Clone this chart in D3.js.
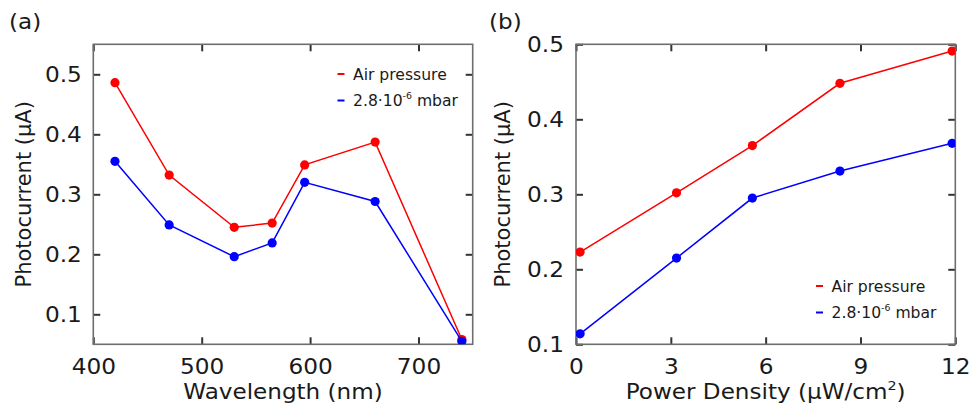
<!DOCTYPE html>
<html>
<head>
<meta charset="utf-8">
<script src="https://cdn.jsdelivr.net/npm/d3@7"></script>
<style>
  html, body { margin: 0; padding: 0; background: #fff; }
  svg { display: block; font-family: "DejaVu Sans", Verdana, sans-serif; }
</style>
</head>
<body>
<svg id="chart" width="971" height="405"></svg>
<script>
// Panel (a): photocurrent vs wavelength
const wavelengths = [420, 470, 530, 565, 595, 660, 740];
const airSpectral = [0.486, 0.332, 0.245, 0.252, 0.349, 0.387, 0.058];
const vacSpectral = [0.355, 0.249, 0.196, 0.219, 0.320, 0.288, 0.055];
const wlTicks = [400, 500, 600, 700];
const ySpecTicks = [0.1, 0.2, 0.3, 0.4, 0.5];

// Panel (b): photocurrent vs power density
const powerDensity = [0.13, 3.18, 5.58, 8.35, 11.9];
const airPower = [0.223, 0.302, 0.365, 0.448, 0.491];
const vacPower = [0.114, 0.215, 0.295, 0.331, 0.368];
const pdTicks = [0, 3, 6, 9, 12];
const yPowTicks = [0.1, 0.2, 0.3, 0.4, 0.5];

const seriesNames = ["Air pressure", "2.8·10⁻⁶ mbar"];
const RED = "#ff0000", BLUE = "#0000ff";
const FRAME = "#6e6e6e", TEXT = "#1a1a1a";
const WIDE = 1.08;   // slight horizontal widening of the lettering

const svg = d3.select("#chart");

function panel(cfg) {
  const { left, right, top, bottom, xDomain, yDomain, xTicks, yTicks, xs, ys1, ys2,
          xFmt, yFmt, label, labelX, xTitle, legendX, legendY, id } = cfg;
  const x = d3.scaleLinear().domain(xDomain).range([left, right]);
  const y = d3.scaleLinear().domain(yDomain).range([bottom, top]);
  const g = svg.append("g");

  g.append("clipPath").attr("id", id)
    .append("rect").attr("x", left).attr("y", top)
    .attr("width", right - left).attr("height", bottom - top);

  const tickLen = 7;
  const axStyle = sel => {
    sel.select(".domain").remove();
    sel.selectAll(".tick line").attr("stroke", "#333").attr("stroke-width", 2);
    sel.selectAll(".tick text").attr("fill", TEXT).style("font-size", "21.5px")
      .style("font-family", "'DejaVu Sans', Verdana, sans-serif")
      .attr("transform", `scale(${WIDE},1)`);
  };

  // bottom axis (inward ticks), labels below
  g.append("g").attr("transform", `translate(0,${bottom})`)
    .call(d3.axisBottom(x).tickValues(xTicks).tickFormat(xFmt).tickSizeInner(-tickLen).tickSizeOuter(0).tickPadding(14))
    .call(axStyle);
  // top axis mirror ticks
  g.append("g").attr("transform", `translate(0,${top})`)
    .call(d3.axisTop(x).tickValues(xTicks).tickFormat("").tickSizeInner(-tickLen).tickSizeOuter(0))
    .call(axStyle);
  // left axis
  g.append("g").attr("transform", `translate(${left},0)`)
    .call(d3.axisLeft(y).tickValues(yTicks).tickFormat(yFmt).tickSizeInner(-tickLen).tickSizeOuter(0).tickPadding(cfg.yPad / WIDE))
    .call(axStyle);
  // right axis mirror ticks
  g.append("g").attr("transform", `translate(${right},0)`)
    .call(d3.axisRight(y).tickValues(yTicks).tickFormat("").tickSizeInner(-tickLen).tickSizeOuter(0))
    .call(axStyle);

  // frame
  g.append("rect").attr("x", left).attr("y", top)
    .attr("width", right - left).attr("height", bottom - top)
    .attr("fill", "none").attr("stroke", FRAME).attr("stroke-width", 1.6);

  // series
  const plot = g.append("g").attr("clip-path", `url(#${id})`);
  const line = d3.line().x(d => x(d[0])).y(d => y(d[1]));
  [[ys1, RED], [ys2, BLUE]].forEach(([vals, col]) => {
    const pts = xs.map((v, i) => [v, vals[i]]);
    plot.append("path").datum(pts).attr("d", line)
      .attr("fill", "none").attr("stroke", col).attr("stroke-width", 1.5);
    plot.selectAll(null).data(pts).enter().append("circle")
      .attr("cx", d => x(d[0])).attr("cy", d => y(d[1])).attr("r", 4.6).attr("fill", col);
  });

  // legend
  const lg = g.append("g").attr("transform", `translate(${legendX},${legendY})`);
  [[seriesNames[0], RED], [null, BLUE]].forEach(([name, col], i) => {
    const row = lg.append("g").attr("transform", `translate(0,${i * 26.5})`);
    row.append("line").attr("x1", 0).attr("x2", 7).attr("y1", 0).attr("y2", 0)
      .attr("stroke", col).attr("stroke-width", 2);
    const t = row.append("text").attr("transform", "translate(15.5,5.5) scale(1.04,1)")
      .attr("fill", TEXT).style("font-size", "15px");
    if (name) {
      t.text(name);
    } else {
      t.append("tspan").text("2.8·10");
      t.append("tspan").attr("dy", -7).style("font-size", "9px").text("-6");
      t.append("tspan").attr("dy", 7).text(" mbar");
    }
  });

  // panel label
  svg.append("text").attr("transform", `translate(${labelX},29) scale(1.1,1)`).attr("fill", TEXT)
    .style("font-size", "21px").text(label);

  // axis titles
  const xt = svg.append("text")
    .attr("transform", `translate(${(left + right) / 2},399) scale(1.1,1)`)
    .attr("text-anchor", "middle").attr("fill", TEXT).style("font-size", "21px");
  xTitle(xt);
  svg.append("text")
    .attr("transform", `translate(${cfg.yTitleX},${(top + bottom) / 2}) rotate(-90)`)
    .attr("text-anchor", "middle").attr("fill", TEXT).style("font-size", "21px")
    .text("Photocurrent (µA)");
}

panel({
  id: "clipA", left: 93.3, right: 472.7, top: 44.3, bottom: 344.3,
  xDomain: [400, 750], yDomain: [0.05, 0.55], xTicks: wlTicks, yTicks: ySpecTicks,
  xs: wavelengths, ys1: airSpectral, ys2: vacSpectral,
  xFmt: d3.format("d"), yFmt: d3.format(".1f"), yPad: 11.5,
  label: "(a)", labelX: 9, yTitleX: 31,
  legendX: 337.5, legendY: 74,
  xTitle: t => t.text("Wavelength (nm)")
});

panel({
  id: "clipB", left: 576, right: 955.3, top: 44.3, bottom: 344.3,
  xDomain: [0, 12], yDomain: [0.1, 0.5], xTicks: pdTicks, yTicks: yPowTicks,
  xs: powerDensity, ys1: airPower, ys2: vacPower,
  xFmt: d3.format("d"), yFmt: d3.format(".1f"), yPad: 12,
  label: "(b)", labelX: 489, yTitleX: 510,
  legendX: 816, legendY: 286,
  xTitle: t => {
    t.append("tspan").text("Power Density (µW/cm");
    t.append("tspan").attr("dy", -9).style("font-size", "13px").text("2");
    t.append("tspan").attr("dy", 9).text(")");
  }
});
</script>
</body>
</html>
